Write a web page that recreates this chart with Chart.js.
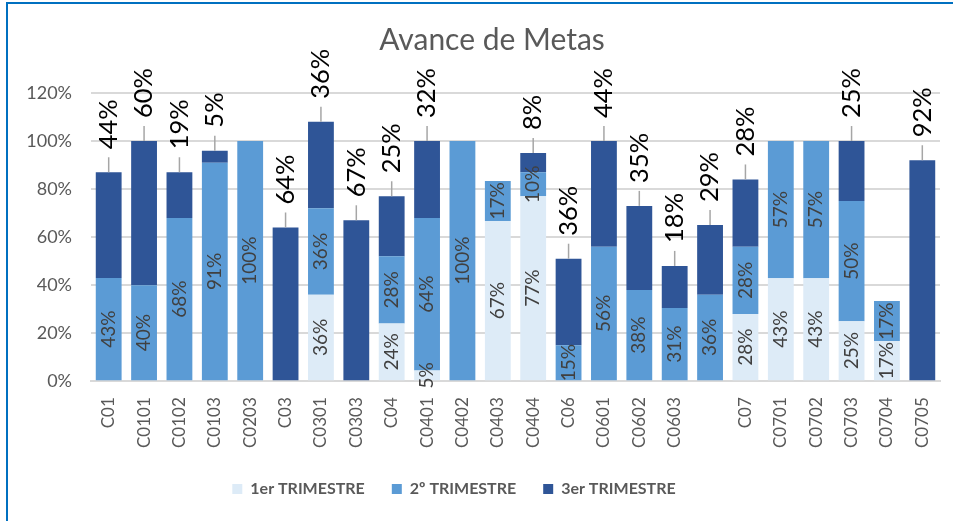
<!DOCTYPE html>
<html><head><meta charset="utf-8">
<script src="https://cdn.jsdelivr.net/npm/chart.js@4.4.1/dist/chart.umd.min.js"></script>
<style>
html,body{margin:0;padding:0;background:#fff;}
#wrap{position:relative;width:953px;height:521px;overflow:hidden;}
#frame{position:absolute;left:6px;top:2px;width:960px;height:540px;border-top:2px solid #0070C0;border-left:2px solid #0070C0;pointer-events:none;}
canvas{display:block}
</style></head><body>
<div id="wrap"><canvas id="c" width="953" height="521"></canvas><div id="frame"></div></div>
<script>
const categories = ['C01','C0101','C0102','C0103','C0203','C03','C0301','C0303','C04','C0401','C0402','C0403','C0404','C06','C0601','C0602','C0603','','C07','C0701','C0702','C0703','C0704','C0705'];
const trim1 = [0,0,0,0,0,0,36,0,24,4.5,0,66.7,77,0,0,0,0,0,28,42.9,42.9,25,16.7,0];
const trim2 = [43,40,68,91,100,0,36,0,28,63.5,100,16.7,10,15,56,38,30.5,36,28,57.1,57.1,50,16.7,0];
const trim3 = [44,60,19,5,0,64,36,67,25,32,0,0,8,36,44,35,17.5,29,28,0,0,25,0,92];
const seriesNames = ['1er TRIMESTRE','2º TRIMESTRE','3er TRIMESTRE'];
const yTickValues = [0,20,40,60,80,100,120];

const FONT = 'Lato';
const segLabels = {
  id:'segLabels',
  afterDatasetsDraw(chart){
    const ctx = chart.ctx;
    [0,1].forEach(di=>{
      const meta = chart.getDatasetMeta(di);
      const vals = chart.data.datasets[di].data;
      meta.data.forEach((el,i)=>{
        const v = vals[i]; if(!v) return;
        const cy = (el.y + el.base)/2;
        ctx.save();
        ctx.translate(el.x, cy); ctx.rotate(-Math.PI/2);
        ctx.font = '19px ' + FONT; ctx.fillStyle = '#404040';
        ctx.textAlign = 'center'; ctx.textBaseline = 'middle';
        ctx.fillText(Math.round(v) + '%', 0, 0);
        ctx.restore();
      });
    });
    const meta = chart.getDatasetMeta(2);
    const vals = chart.data.datasets[2].data;
    meta.data.forEach((el,i)=>{
      const v = vals[i]; if(!v) return;
      ctx.save();
      ctx.strokeStyle = '#A6A6A6'; ctx.lineWidth = 1.5;
      ctx.beginPath(); ctx.moveTo(el.x, el.y); ctx.lineTo(el.x, el.y - 15); ctx.stroke();
      ctx.translate(el.x, el.y - 23); ctx.rotate(-Math.PI/2);
      ctx.font = '25.5px ' + FONT; ctx.fillStyle = '#000';
      ctx.textAlign = 'left'; ctx.textBaseline = 'middle';
      ctx.fillText(Math.round(v) + '%', 0, 0);
      ctx.restore();
    });
  }
};
const shiftBoxes = {
  id:'shiftBoxes',
  afterLayout(chart){
    const t = chart.titleBlock; t.left += 22; t.right += 22;
    const l = chart.legend; l.left -= 16; l.right -= 16;
  }
};

new Chart(document.getElementById('c'), {
  type:'bar',
  data:{
    labels: categories,
    datasets:[
      {label:seriesNames[0], data:trim1, backgroundColor:'#DDEBF7'},
      {label:seriesNames[1], data:trim2, backgroundColor:'#5B9BD5'},
      {label:seriesNames[2], data:trim3, backgroundColor:'#2F5597'}
    ]
  },
  options:{
    responsive:false, animation:false, devicePixelRatio:1,
    datasets:{bar:{barPercentage:0.73, categoryPercentage:1}},
    layout:{padding:{left:0,right:13,top:0,bottom:14}},
    plugins:{
      title:{display:true,text:'Avance de Metas',color:'#595959',font:{family:FONT,size:30,weight:'normal'},padding:{top:22,bottom:35}},
      legend:{position:'bottom',labels:{boxWidth:10,boxHeight:10,color:'#595959',font:{family:FONT,size:16,weight:'bold'},padding:27}},
      tooltip:{enabled:false}
    },
    scales:{
      x:{stacked:true, grid:{display:false}, border:{color:'#D9D9D9',width:2},
         ticks:{color:'#595959',font:{family:FONT,size:17},minRotation:90,maxRotation:90,autoSkip:false,padding:8},
         afterFit(s){ s.height -= 2; }},
      y:{stacked:true, min:0, max:120,
         afterBuildTicks(s){ s.ticks = yTickValues.map(v=>({value:v})); },
         ticks:{color:'#595959',font:{family:FONT,size:18},padding:19,callback:v=>v+'%'},
         grid:{color:'#D9D9D9',lineWidth:2,drawTicks:false}, border:{display:false},
         afterFit(s){ s.width = 91; }}
    }
  },
  plugins:[segLabels, shiftBoxes]
});
</script>
</body></html>
